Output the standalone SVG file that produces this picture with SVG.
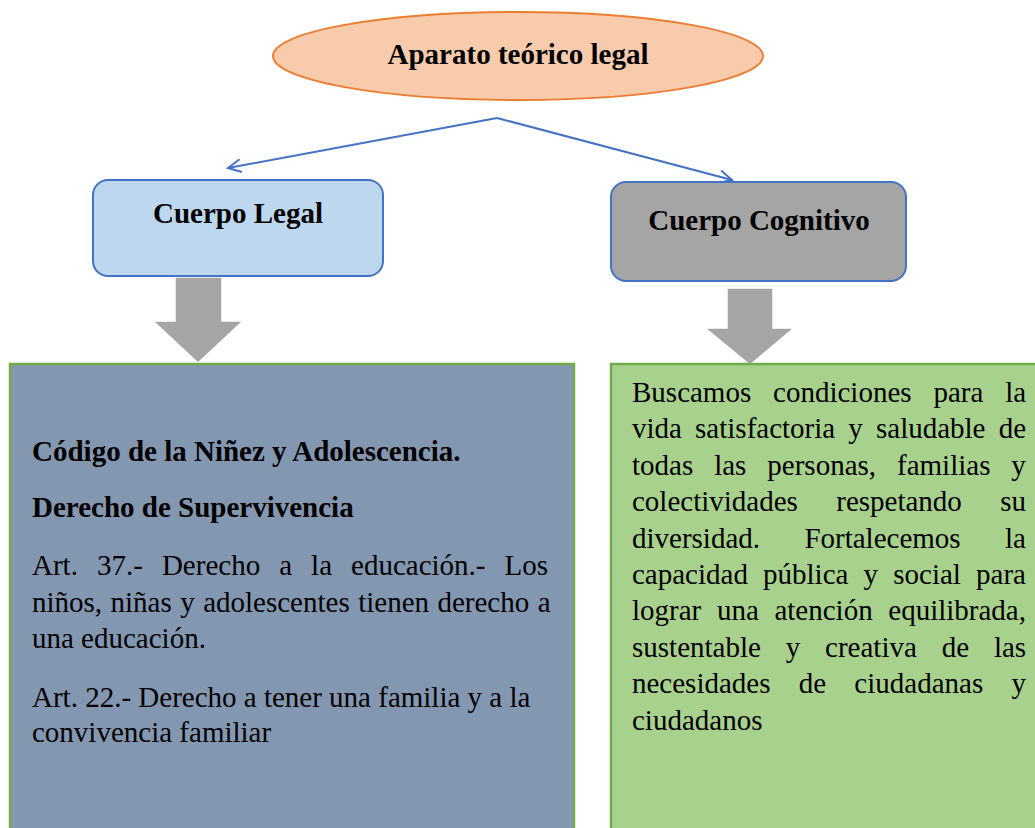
<svg xmlns="http://www.w3.org/2000/svg" width="1035" height="828" viewBox="0 0 1035 828">
<style>
.t{font-family:"Liberation Serif","Times New Roman",serif;fill:#000;font-size:29px}
.b{font-weight:bold}
.conn{fill:none;stroke:#4472C4;stroke-width:2}
.garrow{fill:#A5A5A5;stroke:#fff;stroke-width:1.5}
</style>
<defs>
<marker id="open" markerWidth="16" markerHeight="16" refX="14" refY="8" orient="auto" markerUnits="userSpaceOnUse">
<path d="M1,1.5 L14,8 L1,14.5" fill="none" stroke="#4472C4" stroke-width="2"/>
</marker>
</defs>
<rect width="1035" height="828" fill="#fff"/>
<g id="connectors">
<line class="conn" x1="497" y1="118" x2="228" y2="168" marker-end="url(#open)"/>
<line class="conn" x1="497" y1="118" x2="732" y2="180" marker-end="url(#open)"/>
<path class="garrow" d="M175,277 H222 V321 H243 L198,363 L153,321 H175 Z"/>
<path class="garrow" d="M727,288 H773 V328 H794 L750,365 L705,328 H727 Z"/>
</g>
<g id="root">
<ellipse cx="518" cy="56" rx="245" ry="44" fill="#F8CBAD" stroke="#ED7D31" stroke-width="2"/>
<text class="t b" x="518" y="64" text-anchor="middle">Aparato teórico legal</text>
</g>
<g id="cuerpo-legal">
<rect x="93" y="180" width="290" height="96" rx="15" fill="#BDD7EE" stroke="#4472C4" stroke-width="2"/>
<text class="t b" x="238" y="223" text-anchor="middle">Cuerpo Legal</text>
</g>
<g id="cuerpo-cognitivo">
<rect x="611" y="182" width="295" height="99" rx="15" fill="#A5A5A5" stroke="#4472C4" stroke-width="2"/>
<text class="t b" x="759" y="230" text-anchor="middle">Cuerpo Cognitivo</text>
</g>
<g id="legal-detail">
<rect x="10" y="364" width="564" height="470" fill="#8497B0" stroke="#70AD47" stroke-width="2.5"/>
<text class="t b" x="32" y="461">Código de la Niñez y Adolescencia.</text>
<text class="t b" x="32" y="517">Derecho de Supervivencia</text>
<text class="t" x="32" y="575" style="word-spacing:11.8px">Art. 37.- Derecho a la educación.- Los</text>
<text class="t" x="32" y="612" style="word-spacing:1.2px">niños, niñas y adolescentes tienen derecho a</text>
<text class="t" x="32" y="648">una educación.</text>
<text class="t" x="32" y="707">Art. 22.- Derecho a tener una familia y a la</text>
<text class="t" x="32" y="742">convivencia familiar</text>
</g>
<g id="cognitivo-detail">
<rect x="611" y="364" width="440" height="470" fill="#A9D18E" stroke="#70AD47" stroke-width="2.5"/>
<text class="t" x="632" y="402" style="word-spacing:14.6px">Buscamos condiciones para la</text>
<text class="t" x="632" y="438" style="word-spacing:5.9px">vida satisfactoria y saludable de</text>
<text class="t" x="632" y="475" style="word-spacing:13.7px">todas las personas, familias y</text>
<text class="t" x="632" y="511" style="word-spacing:31.1px">colectividades respetando su</text>
<text class="t" x="632" y="548" style="word-spacing:37.1px">diversidad. Fortalecemos la</text>
<text class="t" x="632" y="584" style="word-spacing:7.9px">capacidad pública y social para</text>
<text class="t" x="632" y="620" style="word-spacing:8.4px">lograr una atención equilibrada,</text>
<text class="t" x="632" y="657" style="word-spacing:17.6px">sustentable y creativa de las</text>
<text class="t" x="632" y="693" style="word-spacing:21px">necesidades de ciudadanas y</text>
<text class="t" x="632" y="730">ciudadanos</text>
</g>
</svg>
